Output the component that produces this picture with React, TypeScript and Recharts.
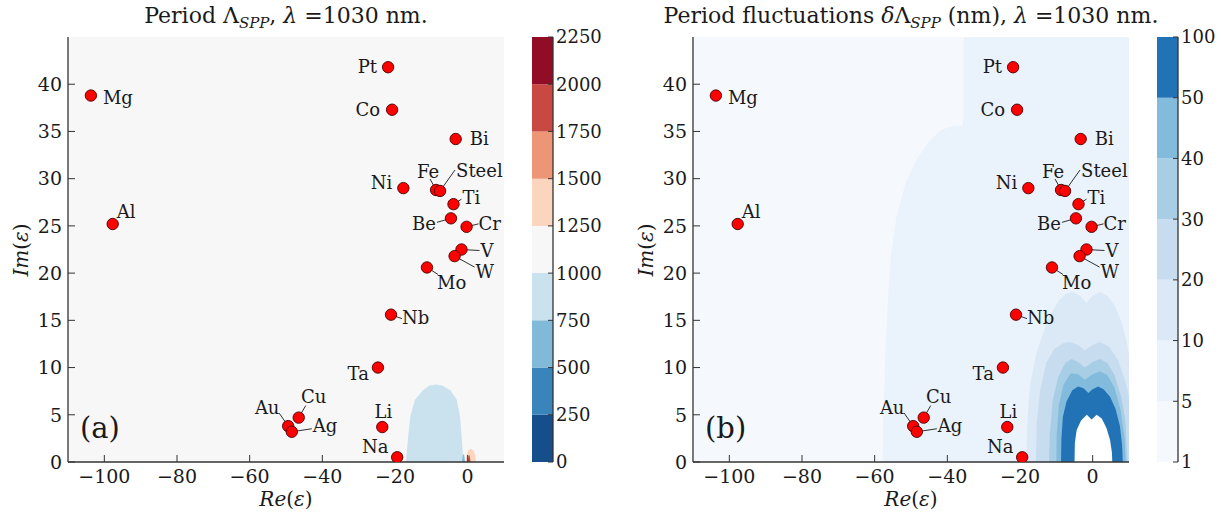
import React from "react";
import {
  Area,
  Bar,
  BarChart,
  CartesianGrid,
  ComposedChart,
  Scatter,
  XAxis,
  YAxis,
} from "recharts";

const FONT = '"DejaVu Serif", "Liberation Serif", serif';
const INK = "#1a1a1a";
const FRAME = "#333";

// metals, permittivity at 1030 nm
const metals = ["Mg", "Al", "Pt", "Co", "Bi", "Ni", "Fe", "Steel", "Ti", "Be", "Cr", "V", "W", "Mo", "Nb", "Ta", "Cu", "Au", "Ag", "Li", "Na"];
const reEps = [-103.7, -97.7, -21.9, -20.8, -3.3, -17.7, -8.7, -7.6, -3.9, -4.6, -0.3, -1.7, -3.6, -11.2, -21.1, -24.7, -46.5, -49.4, -48.4, -23.5, -19.4];
const imEps = [38.8, 25.2, 41.8, 37.3, 34.2, 29.0, 28.8, 28.7, 27.3, 25.8, 24.9, 22.5, 21.8, 20.6, 15.6, 10.0, 4.7, 3.8, 3.2, 3.7, 0.5];

const xTicks = [-100, -80, -60, -40, -20, 0];
const yTicks = [0, 5, 10, 15, 20, 25, 30, 35, 40];

// colour bars
const periodLevels = [0, 250, 500, 750, 1000, 1250, 1500, 1750, 2000, 2250];
const periodColors = ["#154e8b", "#3884bb", "#81bad8", "#cae1ee", "#f7f7f7", "#fcd5bf", "#ed9676", "#ca4842", "#910d26"];
const flucLevels = [1, 5, 10, 20, 30, 40, 50, 100];
const flucColors = ["#f5f9fe", "#eaf2fb", "#dbe9f6", "#c8dcf0", "#a8cee5", "#82bbdb", "#2272b6"];

// (a) period contours
const p750Re = [-17.0, -16.7, -16.2, -15.8, -14.5, -12.3, -10.5, -8.8, -7.0, -4.8, -3.0, -2.1, -1.8, -1.4, -1.2];
const p750Im = [0, 1.3, 3.4, 4.8, 6.6, 7.6, 8.1, 8.2, 8.1, 7.6, 6.6, 4.8, 3.4, 1.3, 0];
const p500Re = [-1.6, -1.3, -1.0, -0.7];
const p500Im = [0, 0.8, 0.8, 0];
const p1250Re = [-0.5, -0.3, 0.2, 0.9, 1.6, 2.1, 2.3];
const p1250Im = [0, 0.8, 1.25, 1.4, 1.2, 0.7, 0];
const p1750Re = [0.0, 0.25, 0.55, 0.8];
const p1750Im = [0, 0.7, 0.7, 0];

// (b) fluctuation contours
const f5Re = [-57.8, -57.5, -57.0, -56.4, -55.5, -54.0, -51.5, -48.5, -45.0, -41.5, -38.0, -35.8, -35.5, -35.5, 10];
const f5Im = [0, 6, 12, 17, 22, 26, 29.5, 32, 34, 35.2, 35.6, 35.6, 36.5, 45, 45];
const f10Re = [-18.3, -18.0, -17.3, -15.5, -13.5, -11.9, -9.5, -7.5, -5.5, -3.5, -1.8, 0, 2, 4, 6, 8, 9.5, 10];
const f10Im = [0, 4, 8, 11.5, 13.8, 15.4, 17, 17.8, 18, 17.6, 16.8, 17.6, 18, 17.6, 16.6, 14.8, 12.5, 11.5];
const f20Re = [-15.6, -15.4, -14.5, -12.8, -10.5, -8, -6.2, -4, -2.2, 0, 2, 4.5, 7, 9, 10];
const f20Im = [0, 4, 7.5, 10.5, 12, 12.6, 12.7, 12.4, 11.8, 12.4, 12.7, 12.2, 10.8, 8.5, 7];
const f30Re = [-12, -11.8, -11, -9.5, -7.5, -5.8, -4, -2.2, 0, 2, 4, 6, 7.8, 9, 9.6];
const f30Im = [0, 3, 6.5, 9, 10.5, 10.9, 10.6, 10, 10.6, 10.9, 10.5, 9.2, 7, 4.5, 0];
const f40Re = [-10, -9.9, -9.3, -8, -6, -4, -2.2, 0, 2, 4, 6, 7.7, 8.8, 9.1];
const f40Im = [0, 3, 6, 8.2, 9.4, 9.3, 8.7, 9.3, 9.6, 9.2, 7.9, 5.5, 2.5, 0];
const f50Re = [-8.7, -8.6, -8.2, -7.2, -5.6, -4, -2.5, -1.2, 0, 1.5, 3, 4.8, 6.3, 7.5, 8.1, 8.3];
const f50Im = [0, 2.5, 4.8, 6.4, 7.6, 8.0, 7.8, 7.3, 7.7, 8.0, 7.7, 6.9, 5.6, 3.8, 1.8, 0];
const f100Re = [-5.0, -4.9, -4.4, -3.2, -1.6, -0.3, 1.1, 2.5, 3.8, 4.8, 5.3, 5.4];
const f100Im = [0, 2, 3.4, 4.4, 5.0, 4.5, 5.0, 4.6, 3.6, 2.3, 1, 0];

// label placement: dx, dy, anchor, leader end (px from the dot)
type Place = [number, number, "start" | "middle" | "end", number?, number?];
const LABEL_POS: Record<string, Place> = {
  Mg: [12, 2, "start"],
  Al: [4, -13, "start"],
  Pt: [-11, -1, "end"],
  Co: [-12, 0, "end"],
  Bi: [14, -1, "start"],
  Ni: [-11, -6, "end"],
  Fe: [-8, -19, "middle", -6, -11],
  Steel: [16, -20, "start", 15, -21],
  Ti: [9, -7, "start", 8, -5],
  Be: [-15, 5, "end", -14, 4],
  Cr: [12, -3, "start", 12, -3],
  V: [19, 1, "start", 18, 1],
  W: [21, 15, "start", 20, 11],
  Mo: [10, 15, "start", 11, 7],
  Nb: [11, 3, "start", 11, 4],
  Ta: [-9, 6, "end"],
  Cu: [15, -21, "middle", 7, -12],
  Au: [-21, -19, "middle", -9, -13],
  Ag: [21, -6, "start", 20, -3],
  Li: [1, -16, "middle"],
  Na: [-22, -11, "middle"],
};

const rows = (re: number[], im: number[]) => re.map((r, i) => ({ re: r, im: im[i] }));
const fmt = (v: number) => (v < 0 ? `\u2212${-v}` : `${v}`);

const MetalDot = (props: any) => {
  const { cx, cy, payload } = props;
  const [dx, dy, anchor, lx, ly] = LABEL_POS[payload.name];
  return (
    <g>
      {lx !== undefined && (
        <line x1={cx} y1={cy} x2={cx + lx} y2={cy + (ly ?? 0)} stroke={INK} strokeWidth={0.9} />
      )}
      <circle cx={cx} cy={cy} r={5.7} fill="#ff0000" stroke="#4a0000" strokeWidth={0.9} />
      <text
        x={cx + dx}
        y={cy + dy}
        textAnchor={anchor}
        dominantBaseline="central"
        fontFamily={FONT}
        fontSize={18}
        fill={INK}
      >
        {payload.name}
      </text>
    </g>
  );
};

type Layer = { re: number[]; im: number[]; fill: string };

const periodLayers: Layer[] = [
  { re: p750Re, im: p750Im, fill: periodColors[3] },
  { re: p500Re, im: p500Im, fill: periodColors[2] },
  { re: p1250Re, im: p1250Im, fill: periodColors[5] },
  { re: p1750Re, im: p1750Im, fill: periodColors[7] },
];

const flucLayers: Layer[] = [
  { re: f5Re, im: f5Im, fill: flucColors[1] },
  { re: f10Re, im: f10Im, fill: flucColors[2] },
  { re: f20Re, im: f20Im, fill: flucColors[3] },
  { re: f30Re, im: f30Im, fill: flucColors[4] },
  { re: f40Re, im: f40Im, fill: flucColors[5] },
  { re: f50Re, im: f50Im, fill: flucColors[6] },
  { re: f100Re, im: f100Im, fill: "#ffffff" },
];

const tickText = { fill: INK, fontSize: 19, fontFamily: FONT };
const barText = { fill: INK, fontSize: 18, fontFamily: FONT };

function Panel({ left, layers, bg, tag, title }: { left: number; layers: Layer[]; bg: string; tag: string; title: React.ReactNode }) {
  const points = metals.map((name, i) => ({ name, re: reEps[i], im: imEps[i] }));
  return (
    <div style={{ position: "absolute", left, top: 0, width: 520, height: 520 }}>
      <ComposedChart width={520} height={520} margin={{ top: 37, right: 16, bottom: 28, left: 0 }}>
        <CartesianGrid xAxisId="b" yAxisId="l" horizontal={false} vertical={false} fill={bg} fillOpacity={1} />
        {layers.map((ly, k) => (
          <Area
            key={k}
            xAxisId="b"
            yAxisId="l"
            data={rows(ly.re, ly.im)}
            dataKey="im"
            type="linear"
            stroke="none"
            fill={ly.fill}
            fillOpacity={1}
            dot={false}
            activeDot={false}
            isAnimationActive={false}
          />
        ))}
        <Scatter xAxisId="b" yAxisId="l" data={points} shape={MetalDot} isAnimationActive={false} />
        <XAxis
          xAxisId="b"
          dataKey="re"
          type="number"
          domain={[-110, 10]}
          allowDataOverflow
          ticks={xTicks}
          tickFormatter={fmt}
          tick={tickText}
          tickSize={-7}
          tickMargin={15}
          height={30}
          axisLine={{ stroke: FRAME, strokeWidth: 1.3 }}
          tickLine={{ stroke: FRAME }}
        />
        <XAxis
          xAxisId="t"
          orientation="top"
          dataKey="re"
          type="number"
          domain={[-110, 10]}
          allowDataOverflow
          ticks={xTicks}
          tick={false}
          tickSize={-7}
          height={0}
          axisLine={{ stroke: FRAME, strokeWidth: 1.3 }}
          tickLine={{ stroke: FRAME }}
        />
        <YAxis
          yAxisId="l"
          dataKey="im"
          type="number"
          domain={[0, 45]}
          allowDataOverflow
          ticks={yTicks}
          tick={tickText}
          tickSize={-7}
          tickMargin={13}
          width={68}
          axisLine={{ stroke: FRAME, strokeWidth: 1.3 }}
          tickLine={{ stroke: FRAME }}
        />
        <YAxis
          yAxisId="r"
          orientation="right"
          type="number"
          domain={[0, 45]}
          allowDataOverflow
          ticks={yTicks}
          tick={false}
          tickSize={-7}
          width={0}
          axisLine={{ stroke: FRAME, strokeWidth: 1.3 }}
          tickLine={{ stroke: FRAME }}
        />
      </ComposedChart>
      <div style={{ position: "absolute", left: -40, top: 2, width: 652, textAlign: "center", fontSize: 22, lineHeight: "28px", whiteSpace: "nowrap", color: INK }}>
        {title}
      </div>
      <div style={{ position: "absolute", left: 80, top: 411, fontSize: 29, lineHeight: "34px", color: INK }}>{tag}</div>
      <div style={{ position: "absolute", left: 68, top: 488, width: 436, textAlign: "center", fontSize: 20, lineHeight: "22px", color: INK }}>
        <i>Re</i>(<i>ε</i>)
      </div>
      <div
        style={{
          position: "absolute",
          left: 21,
          top: 250,
          fontSize: 20,
          lineHeight: "26px",
          color: INK,
          whiteSpace: "nowrap",
          transform: "translate(-50%, -50%) rotate(-90deg)",
        }}
      >
        <i>Im</i>(<i>ε</i>)
      </div>
    </div>
  );
}

function ColorBar({ left, levels, colors, even }: { left: number; levels: number[]; colors: string[]; even: boolean }) {
  const bands = colors.map((_, i) => (even ? 1 : levels[i + 1] - levels[i]));
  const row: Record<string, number | string> = { k: "cb" };
  bands.forEach((v, i) => (row[`s${i}`] = v));
  const top = even ? colors.length : levels[levels.length - 1];
  const ticks = even ? levels.map((_, i) => i) : levels;
  const lo = even ? 0 : levels[0];
  return (
    <div style={{ position: "absolute", left, top: 0 }}>
      <BarChart width={84} height={520} data={[row]} margin={{ top: 37, right: 0, bottom: 58, left: 0 }} barCategoryGap={0}>
        {colors.map((c, i) => (
          <Bar key={i} xAxisId="b" yAxisId="r" dataKey={`s${i}`} stackId="cb" fill={c} isAnimationActive={false} />
        ))}
        <XAxis xAxisId="b" dataKey="k" tick={false} tickLine={false} height={0} axisLine={{ stroke: FRAME, strokeWidth: 1.3 }} />
        <XAxis xAxisId="t" orientation="top" dataKey="k" tick={false} tickLine={false} height={0} axisLine={{ stroke: FRAME, strokeWidth: 1.3 }} />
        <YAxis yAxisId="l" type="number" domain={[lo, top]} tick={false} tickLine={false} width={0} axisLine={{ stroke: FRAME, strokeWidth: 1.3 }} />
        <YAxis
          yAxisId="r"
          orientation="right"
          type="number"
          domain={[lo, top]}
          ticks={ticks}
          interval={0}
          tickFormatter={(v: number) => (even ? `${levels[v]}` : `${v}`)}
          tick={barText}
          tickSize={-5}
          tickMargin={8}
          width={63}
          axisLine={{ stroke: FRAME, strokeWidth: 1.3 }}
          tickLine={{ stroke: FRAME }}
        />
      </BarChart>
    </div>
  );
}

export default function App() {
  return (
    <div style={{ position: "absolute", left: 0, top: 0, width: 1221, height: 520, overflow: "hidden", background: "#fff", fontFamily: FONT }}>
      <Panel
        left={0}
        layers={periodLayers}
        bg={periodColors[4]}
        tag="(a)"
        title={
          <>
            Period Λ<sub style={{ fontSize: 15 }}><i>SPP</i></sub>, <i>λ</i> =1030 nm.
          </>
        }
      />
      <ColorBar left={532} levels={periodLevels} colors={periodColors} even={false} />
      <Panel
        left={625}
        layers={flucLayers}
        bg={flucColors[0]}
        tag="(b)"
        title={
          <>
            Period fluctuations <i>δ</i>Λ<sub style={{ fontSize: 15 }}><i>SPP</i></sub> (nm), <i>λ</i> =1030 nm.
          </>
        }
      />
      <ColorBar left={1157} levels={flucLevels} colors={flucColors} even={true} />
    </div>
  );
}
